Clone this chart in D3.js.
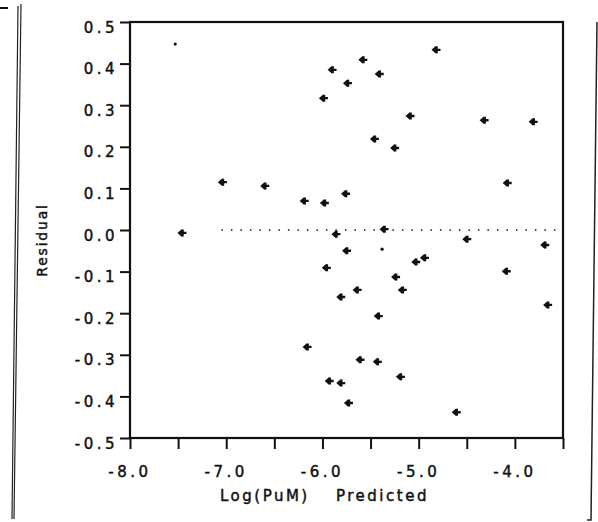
<!DOCTYPE html>
<html>
<head>
  <meta charset="utf-8">
  <title>Residual vs Predicted</title>
  <style>
    body { margin: 0; padding: 0; background: white; }
    #chart { width: 598px; height: 522px; }
    .tick-label { font-family: "DejaVu Sans", sans-serif; font-size: 15px; letter-spacing: 3.5px; fill: #111; stroke: #111; stroke-width: 0.45; }
    .title { font-family: "DejaVu Sans", sans-serif; font-size: 15px; letter-spacing: 2.5px; fill: #111; stroke: #111; stroke-width: 0.45; }
    .frame { fill: none; stroke: #111; stroke-width: 2.2; }
    .marker { fill: #111; }
  </style>
</head>
<body>
  <div id="chart"></div>
  <script src="https://d3js.org/d3.v7.min.js"></script>
  <script>
    // predicted log(PuM) and residual for each compound
    var predicted = [-7.46, -7.04, -6.60, -6.19, -5.98, -5.76, -5.86, -5.75, -5.96, -5.81,
                     -5.64, -6.16, -5.61, -5.93, -5.81, -5.73, -5.43, -5.19, -4.61, -5.42,
                     -5.17, -5.24, -5.03, -4.94, -4.50, -3.69, -3.66, -4.09, -5.36, -4.08,
                     -4.82, -5.58, -5.90, -5.41, -5.74, -5.99, -5.09, -4.32, -3.81, -5.46,
                     -5.25]
    var residual = [-0.007, 0.115, 0.106, 0.070, 0.065, 0.087, -0.010, -0.050, -0.091, -0.161,
                    -0.144, -0.281, -0.312, -0.363, -0.368, -0.416, -0.317, -0.353, -0.438, -0.207,
                    -0.144, -0.113, -0.077, -0.067, -0.022, -0.036, -0.180, -0.099, 0.002, 0.113,
                    0.433, 0.409, 0.385, 0.375, 0.353, 0.317, 0.274, 0.264, 0.260, 0.219,
                    0.197]

    // faint points that printed only as a dot
    var dotPredicted = [-7.53, -5.38]
    var dotResidual = [0.447, -0.046]

    var xTicks = [-8, -7.5, -7, -6.5, -6, -5.5, -5, -4.5, -4, -3.5]
    var xTickLabels = [-8, -7, -6, -5, -4]
    var yTicks = [0.5, 0.4, 0.3, 0.2, 0.1, 0, -0.1, -0.2, -0.3, -0.4, -0.5]

    var width = 598, height = 522
    var plotLeft = 130, plotRight = 563, plotTop = 22, plotBottom = 438

    var fmt = function (d) { return d3.format(".1f")(d).replace("\u2212", "-") }

    var svg = d3.select("#chart").append("svg")
      .attr("width", width)
      .attr("height", height)

    var x = d3.scaleLinear().domain([-8, -3.5]).range([plotLeft, plotRight])
    var y = d3.scaleLinear().domain([-0.5, 0.5]).range([plotBottom, plotTop])

    // scanned page edges
    svg.append("path").attr("d", "M0,8H8").attr("stroke", "#111").attr("stroke-width", 2)
    svg.append("path").attr("d", "M21,4L14,519M18,6L12,519")
      .attr("stroke", "#222").attr("stroke-width", 1.2).attr("fill", "none")
    svg.append("path").attr("d", "M597,22L591,520H587")
      .attr("stroke", "#222").attr("stroke-width", 1.5).attr("fill", "none")

    // zero reference line (dotted)
    svg.append("line")
      .attr("x1", x(-7.05)).attr("x2", x(-3.5))
      .attr("y1", y(0)).attr("y2", y(0))
      .attr("stroke", "#111")
      .attr("stroke-width", 1.6)
      .attr("stroke-dasharray", "1.5,8")

    // axes
    svg.append("g")
      .attr("transform", "translate(" + plotLeft + ",0)")
      .call(d3.axisLeft(y).tickValues(yTicks).tickSize(10).tickFormat(""))
    svg.append("g")
      .attr("transform", "translate(0," + plotBottom + ")")
      .call(d3.axisBottom(x).tickValues(xTicks).tickSize(11).tickFormat(""))
    svg.selectAll(".domain").remove()
    svg.selectAll(".tick line").attr("stroke", "#111").attr("stroke-width", 2)

    // y tick labels sit a little below their ticks, as printed
    svg.append("g")
      .selectAll("text")
      .data(yTicks).enter().append("text")
      .attr("class", "tick-label")
      .attr("x", plotLeft - 12)
      .attr("y", function (d) { return y(d) })
      .attr("dy", 10.5)
      .attr("text-anchor", "end")
      .text(fmt)

    svg.append("g")
      .selectAll("text")
      .data(xTickLabels).enter().append("text")
      .attr("class", "tick-label")
      .attr("x", function (d) { return x(d) })
      .attr("y", plotBottom + 39)
      .attr("text-anchor", "middle")
      .text(fmt)

    // plot frame
    svg.append("rect")
      .attr("class", "frame")
      .attr("x", plotLeft).attr("y", plotTop)
      .attr("width", plotRight - plotLeft).attr("height", plotBottom - plotTop)

    // axis titles
    svg.append("text")
      .attr("class", "title")
      .attr("transform", "translate(47," + ((plotTop + plotBottom) / 2 + 10) + ") rotate(-90)")
      .attr("text-anchor", "middle")
      .style("font-size", "14px")
      .style("letter-spacing", "1.8px")
      .text("Residual")

    svg.append("text").attr("class", "title").attr("x", 220).attr("y", 501).text("Log(PuM)")
    svg.append("text").attr("class", "title").attr("x", 336).attr("y", 501).text("Predicted")

    // points
    var marker = "M-4.5,0L0,-4L0,4Z M0,-1.2H4.5V1.2H0Z M0,-3.5H1.8V3.5H0Z"
    svg.append("g")
      .selectAll("path")
      .data(d3.range(predicted.length))
      .enter().append("path")
      .attr("class", "marker")
      .attr("d", marker)
      .attr("transform", function (i) {
        return "translate(" + x(predicted[i]) + "," + y(residual[i]) + ")"
      })

    svg.append("g")
      .selectAll("circle")
      .data(d3.range(dotPredicted.length))
      .enter().append("circle")
      .attr("class", "marker")
      .attr("cx", function (i) { return x(dotPredicted[i]) })
      .attr("cy", function (i) { return y(dotResidual[i]) })
      .attr("r", 1.6)
  </script>
</body>
</html>
